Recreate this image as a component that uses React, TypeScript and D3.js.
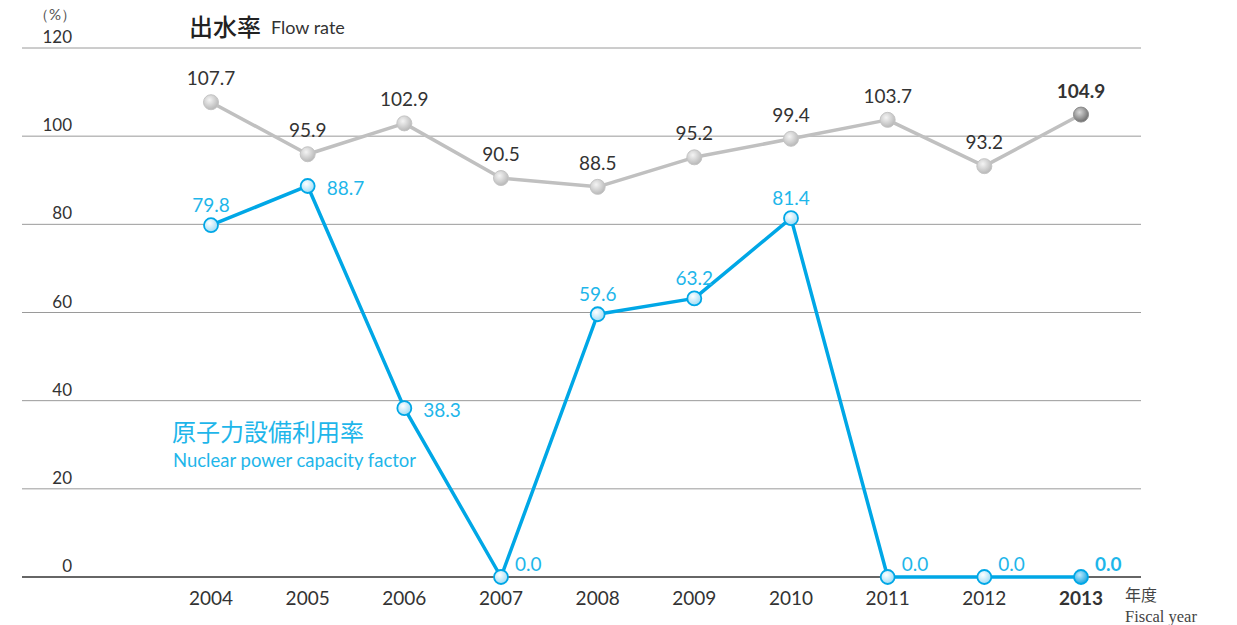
import React from "react";
import * as d3 from "d3";

const years = ["2004", "2005", "2006", "2007", "2008", "2009", "2010", "2011", "2012", "2013"];
const flowRate = [107.7, 95.9, 102.9, 90.5, 88.5, 95.2, 99.4, 103.7, 93.2, 104.9];
const nuclear = [79.8, 88.7, 38.3, 0.0, 59.6, 63.2, 81.4, 0.0, 0.0, 0.0];
const yTicks = [0, 20, 40, 60, 80, 100, 120];
// label placement: "a" = above centered, "r" = right of point, "ra" = right and slightly above
const nuclearLabelPos = ["a", "r", "r", "ra", "a", "a", "a", "ra", "ra", "ra"];

const BLUE = "#00a7e6";
const BLUE_TEXT = "#1eb6ea";
const FONT = "Lato, 'Noto Sans', sans-serif";

export default function App() {
  const W = 1237, H = 625;
  const x = d3.scalePoint<string>().domain(years).range([211, 1081]);
  const y = d3.scaleLinear().domain([0, 120]).range([577, 48]);
  const line = d3.line<number>().x((_, i) => x(years[i])!).y((d) => y(d));
  const last = years.length - 1;

  return (
    <svg width={W} height={H} style={{ position: "absolute", left: 0, top: 0, background: "#fff" }} fontFamily={FONT}>
      <defs>
        <radialGradient id="gGray" cx="40%" cy="35%" r="65%">
          <stop offset="0%" stopColor="#f4f4f4" />
          <stop offset="100%" stopColor="#b8b8b8" />
        </radialGradient>
        <radialGradient id="gDark" cx="40%" cy="35%" r="65%">
          <stop offset="0%" stopColor="#d8d8d8" />
          <stop offset="100%" stopColor="#6f6f6f" />
        </radialGradient>
        <radialGradient id="gBlue" cx="40%" cy="35%" r="65%">
          <stop offset="0%" stopColor="#ffffff" />
          <stop offset="100%" stopColor="#9fdcf5" />
        </radialGradient>
        <radialGradient id="gBlueDark" cx="40%" cy="35%" r="65%">
          <stop offset="0%" stopColor="#bdeaff" />
          <stop offset="100%" stopColor="#1aa6e0" />
        </radialGradient>
      </defs>

      {/* grid */}
      {yTicks.map((t) => (
        <g key={t}>
          <line x1={22} x2={1141} y1={y(t)} y2={y(t)} stroke={t === 0 ? "#333" : "#9a9a9a"} strokeWidth={t === 0 ? 1.5 : 1} />
          <text x={72} y={y(t) - 5} textAnchor="end" fontSize={17} fill="#333">{t}</text>
        </g>
      ))}
      <text x={55} y={20} textAnchor="middle" fontSize={15} fill="#555">（%）</text>

      {/* title */}
      <text x={189} y={36} fontSize={24} fill="#222" fontFamily="'Noto Sans CJK JP', sans-serif" fontWeight={500}>出水率</text>
      <text x={271} y={34} fontSize={18} fill="#333">Flow rate</text>

      {/* x labels */}
      {years.map((yr, i) => (
        <text key={yr} x={x(yr)} y={605} textAnchor="middle" fontSize={19} fill="#333" fontWeight={i === last ? 700 : 400}>{yr}</text>
      ))}
      <text x={1125} y={601} fontSize={16} fill="#444" fontFamily="'Noto Sans CJK JP', sans-serif">年度</text>
      <text x={1125} y={622} fontSize={16.5} fill="#444" fontFamily="'Liberation Serif', serif">Fiscal year</text>

      {/* flow rate series */}
      <path d={line(flowRate) ?? ""} fill="none" stroke="#c0c0c0" strokeWidth={3.5} strokeLinejoin="round" />
      {flowRate.map((v, i) => (
        <g key={"f" + i}>
          <circle cx={x(years[i])} cy={y(v)} r={7.5} fill={i === last ? "url(#gDark)" : "url(#gGray)"} stroke={i === last ? "#8a8a8a" : "#c4c4c4"} strokeWidth={1} />
          <text x={x(years[i])} y={y(v) - 17} textAnchor="middle" fontSize={19} fill="#333" fontWeight={i === last ? 700 : 400}>{v.toFixed(1)}</text>
        </g>
      ))}

      {/* nuclear series */}
      <path d={line(nuclear) ?? ""} fill="none" stroke={BLUE} strokeWidth={3.5} strokeLinejoin="round" />
      {nuclear.map((v, i) => {
        const cx = x(years[i])!;
        const cy = y(v);
        const pos = nuclearLabelPos[i];
        let tx = cx, ty = cy - 13, anchor = "middle";
        if (pos === "r") { tx = cx + 19; ty = cy + 9; anchor = "start"; }
        if (pos === "ra") { tx = cx + 14; ty = cy - 6; anchor = "start"; }
        return (
          <g key={"n" + i}>
            <circle cx={cx} cy={cy} r={7} fill={i === last ? "url(#gBlueDark)" : "url(#gBlue)"} stroke={BLUE} strokeWidth={1.8} />
            <text x={tx} y={ty} textAnchor={anchor} fontSize={19} fill={BLUE_TEXT} fontWeight={i === last ? 700 : 400}>{v.toFixed(1)}</text>
          </g>
        );
      })}

      {/* nuclear legend */}
      <text x={172} y={441} fontSize={24} fill={BLUE_TEXT} fontFamily="'Noto Sans CJK JP', sans-serif">原子力設備利用率</text>
      <text x={173} y={467} fontSize={18.5} fill={BLUE_TEXT}>Nuclear power capacity factor</text>
    </svg>
  );
}
